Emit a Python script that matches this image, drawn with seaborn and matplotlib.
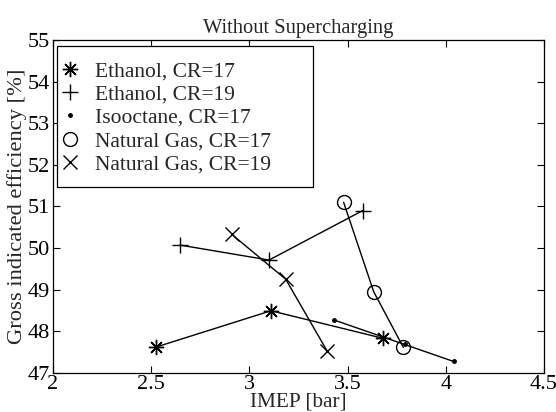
import matplotlib
matplotlib.use("Agg")
import matplotlib.pyplot as plt
from matplotlib.lines import Line2D
from matplotlib.patches import Rectangle
import seaborn as sns
import pandas as pd

sns.set_theme(style="ticks")
plt.rcParams["font.family"] = ["Liberation Serif", "DejaVu Serif"]
plt.rcParams["mathtext.fontset"] = "stix"

labels = ["Ethanol, CR=17", "Ethanol, CR=19", "Isooctane, CR=17",
          "Natural Gas, CR=17", "Natural Gas, CR=19"]
eth17_x = [2.527, 3.11, 3.678]
eth17_y = [47.62, 48.49, 47.83]
eth19_x = [2.648, 3.10, 3.577]
eth19_y = [50.07, 49.71, 50.90]
iso17_x = [3.43, 3.79, 4.04]
iso17_y = [48.27, 47.68, 47.27]
ng17_x = [3.48, 3.633, 3.784]
ng17_y = [51.10, 48.95, 47.61]
ng19_x = [2.91, 3.185, 3.395]
ng19_y = [50.33, 49.25, 47.53]

xs = [eth17_x, eth19_x, iso17_x, ng17_x, ng19_x]
ys = [eth17_y, eth19_y, iso17_y, ng17_y, ng19_y]
markers = [(8, 2, 0), "+", ".", "o", "x"]
msizes = [11, 11, 5, 10, 10]

fig = plt.figure(figsize=(5.56, 4.12), dpi=100)
ax = fig.add_axes([0.0953, 0.0954, 0.883, 0.807])

handles = []
for lab, x, y, m, ms in zip(labels, xs, ys, markers, msizes):
    df = pd.DataFrame({"x": x, "y": y})
    sns.lineplot(data=df, x="x", y="y", ax=ax, color="black", sort=False,
                 marker=m, markersize=ms, markerfacecolor="none",
                 markeredgecolor="black", markeredgewidth=1.0,
                 linewidth=1.0, legend=False)
    handles.append(Line2D([], [], linestyle="none", marker=m, markersize=ms,
                          markerfacecolor="none" if m != "." else "black",
                          markeredgecolor="black", markeredgewidth=1.0,
                          label=lab))
for line in ax.lines:
    if line.get_marker() == ".":
        line.set_markerfacecolor("black")

ax.set_xlim(2, 4.5)
ax.set_ylim(47, 55)
ax.set_xticks([2, 2.5, 3, 3.5, 4, 4.5])
ax.set_xticklabels(["2", "2.5", "3", "3.5", "4", "4.5"])
ax.set_yticks(range(47, 56))
ax.tick_params(direction="in", top=True, right=True, length=5, width=0.8,
               labelsize=16, colors="black")
ax.tick_params(axis="y", pad=2.5)
ax.tick_params(axis="x", pad=2)
for sp in ax.spines.values():
    sp.set_visible(True)
    sp.set_color("black")
    sp.set_linewidth(0.9)

ax.set_title("Without Supercharging", fontsize=14.8, pad=5)
ax.set_xlabel("IMEP [bar]", fontsize=15.3, labelpad=-1.5)
ax.set_ylabel("Gross indicated efficiency [%]", fontsize=16.2, labelpad=0.5)

# legend frame (MATLAB-style box with wide right margin)
ax.add_patch(Rectangle((0.008, 0.558), 0.522, 0.424, transform=ax.transAxes,
                       facecolor="white", edgecolor="black", linewidth=0.9,
                       zorder=4))
leg = ax.legend(handles=handles, loc="upper left",
                bbox_to_anchor=(0.020, 0.937), fontsize=15.5,
                frameon=False, borderaxespad=0, borderpad=0,
                handlelength=0.65, handletextpad=0.84, labelspacing=0.15)
leg.set_zorder(5)

fig.savefig("out.png", dpi=100, facecolor="white")
